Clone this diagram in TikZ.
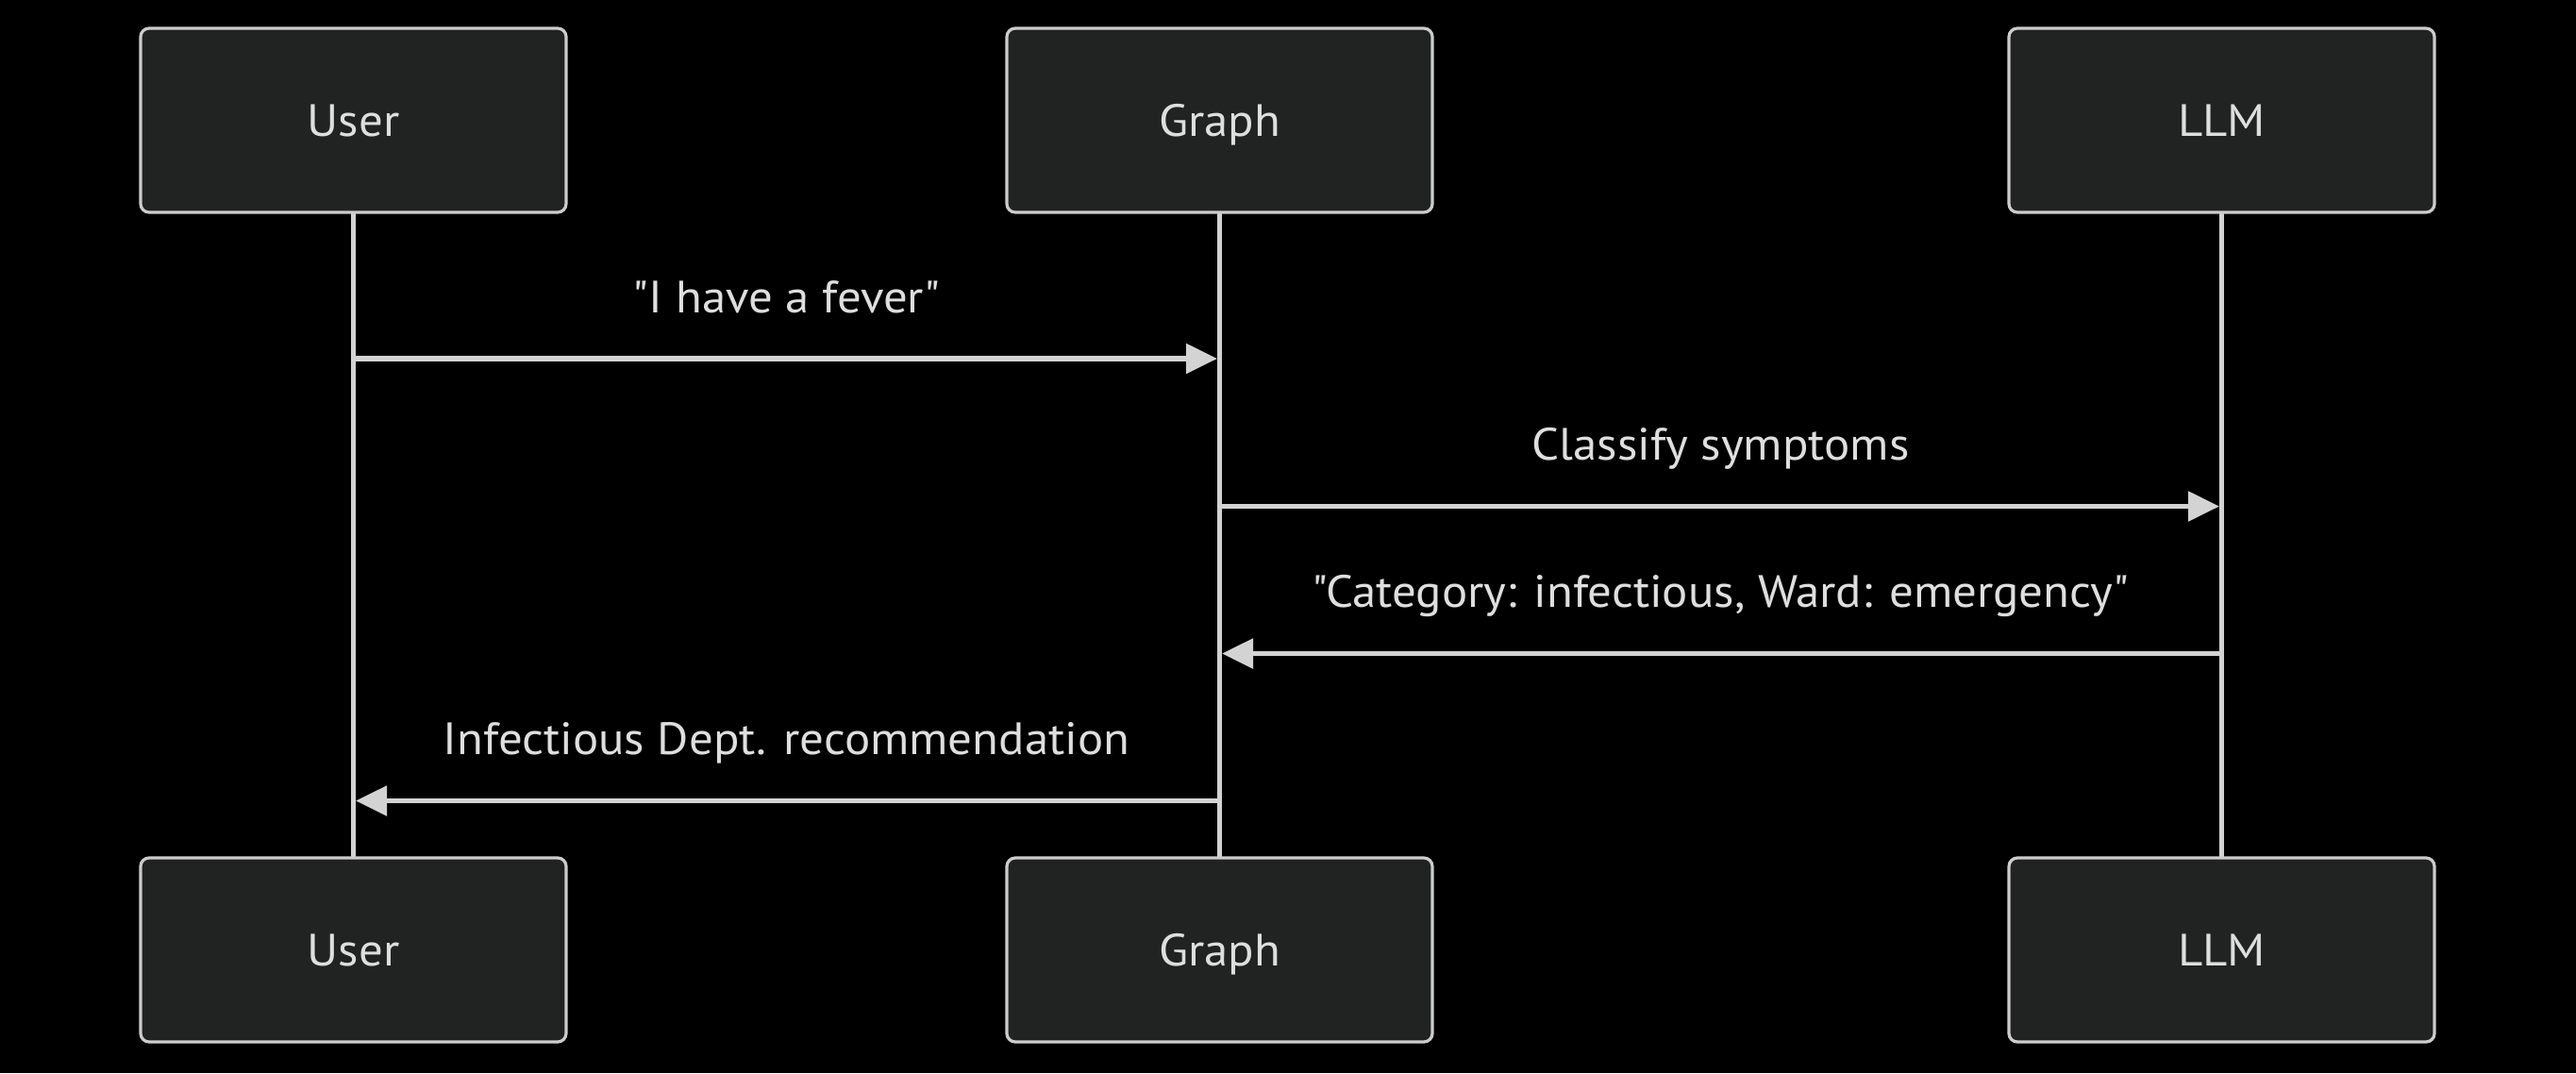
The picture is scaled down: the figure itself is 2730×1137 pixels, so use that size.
\documentclass[tikz,border=0pt]{standalone}
\usepackage{fontspec}
\setmainfont{PT Sans}[FakeStretch=1.06,Ligatures=TeXOff]
\usetikzlibrary{arrows.meta}
\definecolor{boxfill}{RGB}{33,34,34}
\definecolor{boxline}{RGB}{204,204,204}
\definecolor{ln}{RGB}{211,211,211}
\definecolor{txt}{RGB}{222,222,222}
\begin{document}
\begin{tikzpicture}[x=0.5pt,y=-0.5pt,
  actor/.style={draw=boxline,fill=boxfill,line width=1.6pt,rounded corners=4.5pt,
    minimum width=225.5pt,minimum height=97.5pt,inner sep=0pt,text=txt,
    text height=18pt,text depth=1.2pt,
    font=\fontsize{24}{28}\selectfont},
  life/.style={draw=ln,line width=2.4pt},
  msg/.style={draw=ln,line width=2.6pt,-{Triangle[length=16.5pt,width=15.5pt]}},
  lbl/.style={text=txt,font=\fontsize{24}{28}\selectfont,inner sep=0pt,
    text height=18pt,text depth=1.2pt}]
\fill[black] (0,0) rectangle (2730,1137);
\useasboundingbox (0,0) rectangle (2730,1137);
% lifelines first
\coordinate (ut) at (374.5,226); \coordinate (ub) at (374.5,908.5);
\coordinate (gt) at (1292.5,226); \coordinate (gb) at (1292.5,908.5);
\coordinate (lt) at (2354.5,226); \coordinate (lb) at (2354.5,908.5);
\draw[life] (ut) -- (ub);
\draw[life] (gt) -- (gb);
\draw[life] (lt) -- (lb);
% actors
\node[actor] (u1) at (374.5,127.5) {User};
\node[actor] (g1) at (1292.5,127.5) {Graph};
\node[actor] (l1) at (2354.5,127.5) {LLM};
\node[actor] (u2) at (374.5,1006.5) {User};
\node[actor] (g2) at (1292.5,1006.5) {Graph};
\node[actor] (l2) at (2354.5,1006.5) {LLM};
% message anchors
\coordinate (m1a) at (374.5,380); \coordinate (m1b) at (1290,380);
\coordinate (m2a) at (1292.5,536.5); \coordinate (m2b) at (2352,536.5);
\coordinate (m3a) at (2354.5,692.5); \coordinate (m3b) at (1295,692.5);
\coordinate (m4a) at (1292.5,848.5); \coordinate (m4b) at (377,848.5);
\draw[msg] (m1a) -- (m1b);
\draw[msg] (m2a) -- (m2b);
\draw[msg] (m3a) -- (m3b);
\draw[msg] (m4a) -- (m4b);
\node[lbl] (t1) at (833.5,315) {"I have a fever"};
\node[lbl] (t2) at (1823.5,471) {Classify symptoms};
\node[lbl] (t3) at (1823.5,627) {"Category: infectious, Ward: emergency"};
\node[lbl] (t4) at (833.5,783) {Infectious Dept. recommendation};
\end{tikzpicture}
\end{document}
